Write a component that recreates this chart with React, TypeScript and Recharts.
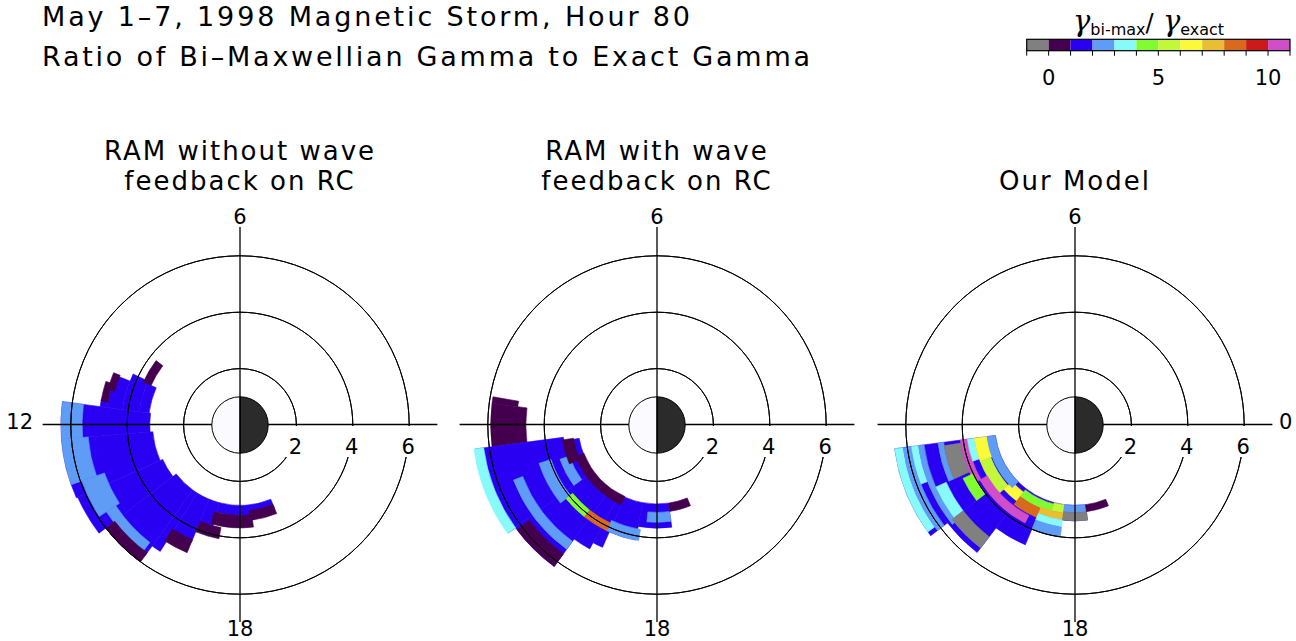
import React from 'react';
import { PieChart, Pie, Cell } from 'recharts';

// colour levels: index = level + 1 (level -1 is the grey "< 0" box)
const LEVEL_COLORS = ['#808080', '#44004e', '#2a00f2', '#5f9cf6', '#88fafa', '#80fc30', '#c2f83a', '#fafa3a', '#e8be32', '#d86a1e', '#cc1a1a', '#d04ec8'];
const LEVEL_TICKS = [0, 5, 10];
const RING_LABELS = [2, 4, 6];

type Patch = [number, number, number, number, number]; // r in, r out (RE), MLT start, MLT end, level

const ramNoFeedback: Patch[] = [
  [3.25, 3.6, 10.4, 11.5, 1],
  [3.6, 4.2, 10.3, 11.5, 1],
  [4.2, 4.75, 10.55, 11.5, 1],
  [4.75, 5.0, 11.3, 11.5, 1],
  [3.2, 6.35, 11.5, 12.3, 1],
  [3.1, 6.35, 12.3, 13.6, 1],
  [3.0, 6.3, 13.6, 14.5, 1],
  [2.85, 5.75, 14.5, 15.6, 1],
  [2.85, 5.3, 15.6, 15.85, 1],
  [2.85, 4.5, 15.85, 16.5, 1],
  [2.85, 3.8, 16.5, 17.0, 1],
  [2.85, 3.2, 17.0, 19.5, 1],
  [5.6, 6.35, 11.5, 12.3, 2],
  [5.4, 6.35, 12.3, 13.3, 2],
  [5.1, 5.95, 13.3, 14.2, 2],
  [5.25, 5.65, 14.2, 15.5, 2],
  [3.45, 3.75, 9.5, 10.4, 0],
  [4.6, 4.85, 10.5, 11.0, 0],
  [4.75, 5.0, 10.8, 11.35, 0],
  [5.6, 6.0, 14.5, 15.6, 0],
  [4.4, 4.9, 15.8, 16.5, 0],
  [3.7, 4.1, 16.5, 17.3, 0],
  [3.2, 3.65, 16.9, 18.5, 0],
  [3.05, 3.4, 18.4, 19.5, 0],
];

const ramFeedback: Patch[] = [
  [4.98, 5.9, 11.35, 11.5, 0],
  [4.65, 5.9, 11.5, 12.5, 0],
  [3.35, 6.5, 12.5, 14.4, 1],
  [2.8, 3.35, 12.65, 14.4, 1],
  [2.8, 6.2, 14.4, 15.6, 1],
  [2.8, 5.0, 15.6, 16.1, 1],
  [2.8, 4.75, 16.1, 16.4, 1],
  [2.8, 4.15, 16.4, 17.3, 1],
  [2.8, 3.66, 17.3, 18.55, 1],
  [6.2, 6.55, 12.5, 14.4, 3],
  [5.1, 5.45, 13.4, 15.6, 2],
  [3.95, 4.4, 13.2, 14.6, 2],
  [3.3, 3.65, 13.3, 14.4, 2],
  [3.75, 4.15, 16.3, 17.4, 2],
  [3.1, 3.45, 17.6, 18.55, 2],
  [3.85, 4.15, 14.6, 15.45, 4],
  [3.85, 4.15, 15.45, 16.3, 8],
  [3.0, 3.4, 12.6, 13.6, 0],
  [2.78, 3.1, 13.4, 16.4, 0],
  [5.65, 6.2, 14.45, 15.6, 0],
  [2.8, 3.1, 18.55, 19.5, 0],
];

const ourModel: Patch[] = [
  [2.85, 6.45, 12.5, 14.5, 1],
  [2.85, 5.7, 14.5, 15.5, 1],
  [2.85, 4.6, 15.5, 16.5, 1],
  [2.85, 4.0, 16.5, 17.4, 1],
  [2.85, 3.4, 17.4, 18.5, 1],
  [6.15, 6.45, 12.5, 14.4, 3],
  [5.85, 6.15, 12.5, 14.5, 2],
  [5.6, 5.85, 12.5, 13.4, 3],
  [5.4, 5.6, 12.5, 14.6, 2],
  [4.7, 4.9, 12.5, 13.6, 2],
  [5.0, 5.4, 13.6, 14.5, 3],
  [5.0, 5.5, 14.5, 15.5, -1],
  [4.1, 4.7, 12.6, 13.6, -1],
  [3.85, 4.1, 12.5, 14.0, 10],
  [4.0, 4.4, 13.7, 14.5, 4],
  [3.6, 3.85, 12.5, 13.3, 3],
  [3.15, 3.6, 12.5, 13.4, 6],
  [3.2, 3.6, 13.4, 14.8, 5],
  [3.6, 3.9, 14.0, 16.2, 10],
  [3.0, 3.4, 14.8, 15.6, 6],
  [2.85, 3.15, 12.5, 15.0, 2],
  [2.9, 3.2, 15.5, 17.0, 4],
  [3.2, 3.55, 15.5, 16.5, 8],
  [2.85, 3.15, 17.0, 17.5, 5],
  [3.15, 3.4, 16.5, 17.5, 7],
  [3.4, 3.65, 16.5, 17.5, 3],
  [3.65, 4.0, 16.5, 17.5, 2],
  [2.85, 3.1, 17.5, 18.5, 2],
  [3.1, 3.4, 17.5, 18.5, -1],
  [2.85, 3.1, 18.5, 19.5, 0],
];

const PANELS = [
  { title: ['RAM without wave', 'feedback on RC'], patches: ramNoFeedback },
  { title: ['RAM with wave', 'feedback on RC'], patches: ramFeedback },
  { title: ['Our Model'], patches: ourModel },
];

const EARTH = [{ side: 'night', v: 1 }, { side: 'day', v: 1 }];

const S = 28.2; // px per Earth radius
const HALF = 210;
const CENTERS = [240, 657, 1075];
const CY = 424.5;
const AXIS_R = 7;
const FONT = '"DejaVu Sans", sans-serif';

const PolarPanel = ({ patches, cx }: { patches: Patch[]; cx: number }) => (
  <div style={{ position: 'absolute', left: cx - HALF, top: CY - HALF }}>
    <PieChart width={HALF * 2} height={HALF * 2} margin={{ top: 0, right: 0, bottom: 0, left: 0 }}>
      {patches.map(([r0, r1, m0, m1, lev], i) => {
        const col = LEVEL_COLORS[lev + 1];
        return (
          <Pie key={'p' + i} data={[{ v: 1 }]} dataKey="v" cx={HALF} cy={HALF}
            innerRadius={r0 * S} outerRadius={r1 * S} startAngle={m0 * 15} endAngle={m1 * 15}
            isAnimationActive={false}>
            <Cell fill={col} stroke={col} strokeWidth={0.6} />
          </Pie>
        );
      })}
      {RING_LABELS.map(r => (
        <Pie key={'ring' + r} data={[{ v: 1 }]} dataKey="v" cx={HALF} cy={HALF}
          innerRadius={r * S} outerRadius={r * S} startAngle={0} endAngle={360}
          isAnimationActive={false}>
          <Cell fill="none" stroke="#000" strokeWidth={1} />
        </Pie>
      ))}
      <Pie data={EARTH} dataKey="v" cx={HALF} cy={HALF} innerRadius={0} outerRadius={S}
        startAngle={-90} endAngle={270} isAnimationActive={false}>
        <Cell fill="#2b2b2b" stroke="#000" strokeWidth={1} />
        <Cell fill="#fafaff" stroke="#000" strokeWidth={1} />
      </Pie>
    </PieChart>
  </div>
);

const Colorbar = () => {
  const x0 = 1026.7, w = 21.94, y0 = 39.3, h = 11.4;
  const n = LEVEL_COLORS.length;
  return (
    <g>
      {LEVEL_COLORS.map((c, i) => (
        <rect key={i} x={x0 + i * w} y={y0} width={w} height={h} fill={c} />
      ))}
      <rect x={x0} y={y0} width={w * n} height={h} fill="none" stroke="#000" strokeWidth={1.2} />
      {[...LEVEL_COLORS, ''].map((_, i) => (
        <line key={'t' + i} x1={x0 + i * w} x2={x0 + i * w} y1={y0 + h} y2={y0 + h + 5} stroke="#000" strokeWidth={1} />
      ))}
      {LEVEL_TICKS.map(t => (
        <text key={t} x={x0 + (t + 1) * w} y={85} fontSize={21} textAnchor="middle">{t}</text>
      ))}
      <text x={1073} y={31} textAnchor="start">
        <tspan fontSize={29} fontStyle="italic" fontFamily='"DejaVu Serif", serif'>γ</tspan>
        <tspan fontSize={16} dy={4}>bi-max</tspan>
        <tspan fontSize={24} dy={-4}>/</tspan>
        <tspan fontSize={29} fontStyle="italic" fontFamily='"DejaVu Serif", serif'> γ</tspan>
        <tspan fontSize={16} dy={4}>exact</tspan>
      </text>
    </g>
  );
};

export default function App() {
  return (
    <div style={{ position: 'absolute', left: 0, top: 0, width: 1296, height: 641, background: '#fff', overflow: 'hidden' }}>
      {PANELS.map((p, i) => <PolarPanel key={i} patches={p.patches} cx={CENTERS[i]} />)}
      <svg width={1296} height={641} style={{ position: 'absolute', left: 0, top: 0, pointerEvents: 'none' }}
        fontFamily={FONT} fill="#000">
        <text x={42} y={26} fontSize={27} textLength={648} lengthAdjust="spacing">May 1–7, 1998 Magnetic Storm, Hour 80</text>
        <text x={42} y={66} fontSize={27} textLength={768} lengthAdjust="spacing">Ratio of Bi–Maxwellian Gamma to Exact Gamma</text>
        {PANELS.map((p, i) => {
          const cx = CENTERS[i];
          const L = AXIS_R * S;
          const lines = p.title.length === 2 ? [160, 190] : [190];
          return (
            <g key={i}>
              {p.title.map((t, j) => (
                <text key={j} x={cx} y={lines[j]} fontSize={26} letterSpacing={2} textAnchor="middle">{t}</text>
              ))}
              <line x1={cx - L} x2={cx - S} y1={CY} y2={CY} stroke="#000" strokeWidth={1.3} />
              <line x1={cx + S} x2={cx + L} y1={CY} y2={CY} stroke="#000" strokeWidth={1.3} />
              <line x1={cx} x2={cx} y1={CY - L} y2={CY + L} stroke="#000" strokeWidth={1.3} />
              {RING_LABELS.map(r => (
                <g key={r}>
                  <rect x={cx + r * S - 13} y={CY + 1.5} width={26} height={31} fill="#fff" />
                  <text x={cx + r * S - 1} y={CY + 29} fontSize={21} textAnchor="middle">{r}</text>
                </g>
              ))}
              <text x={cx} y={CY - L - 3} fontSize={21} textAnchor="middle">6</text>
              <text x={cx} y={CY + L + 14} fontSize={21} textAnchor="middle">18</text>
            </g>
          );
        })}
        <text x={33} y={CY + 4} fontSize={21} textAnchor="end">12</text>
        <text x={1279} y={CY + 4} fontSize={21} textAnchor="start">0</text>
        <Colorbar />
      </svg>
    </div>
  );
}
